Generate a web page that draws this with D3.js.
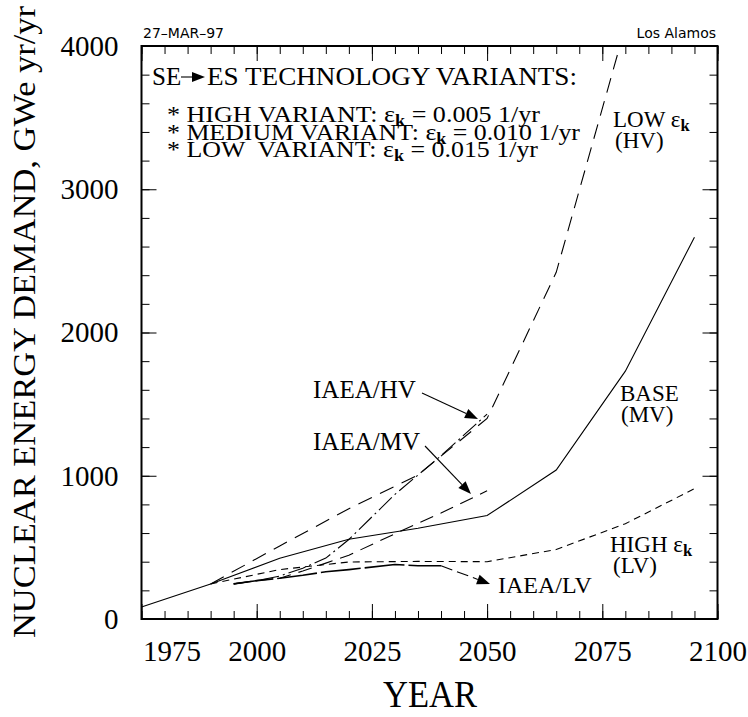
<!DOCTYPE html>
<html><head><meta charset="utf-8">
<script src="https://cdn.jsdelivr.net/npm/d3@7/dist/d3.min.js"></script>
<style>
body{margin:0;background:#fff}
svg{display:block;background:#fff}
text{font-family:"Liberation Serif","Times New Roman",serif;fill:#000}
</style>
</head><body>
<svg id="c" width="748" height="717" font-family="Liberation Serif"></svg>
<script>
// ---------------- data ----------------
const xTickLabels = ["1975","2000","2025","2050","2075","2100"];
const yTickLabels = ["0","1000","2000","3000","4000"];

const baseYears  = [1975,1990,2005,2020,2035,2050,2065,2080,2095];
const baseMV     = [84,245,424,557,633,722,1040,1730,2665];

const lowEkYears = [1990,2005,2020,2035,2050,2065,2080];
const lowEkHV    = [245,510,770,1005,1400,2420,4135];

const highEkYears = [1990,2005,2020,2035,2050,2065,2080,2095];
const highEkLV    = [245,345,398,402,400,485,665,910];

const iaeaYears = [1995,2000,2005,2010,2015,2020,2030,2040,2050];
const iaeaHV    = [245,268,300,355,425,555,870,1140,1430];
const iaeaMV    = [245,268,285,335,390,445,595,740,895];

const iaeaLVYears = [1995,2000,2005,2010,2015,2020,2030,2035,2040];
const iaeaLV      = [245,268,285,305,330,345,380,372,372];

// ---------------- layout ----------------
const SERIF = "Liberation Serif";
const svg = d3.select("#c");
const L = 141.5, R = 717.5, T = 46, B = 619;
const x = d3.scaleLinear().domain([1975,2100]).range([L,R]);
const y = d3.scaleLinear().domain([0,4000]).range([B,T]);

svg.append("defs").append("clipPath").attr("id","clip")
  .append("rect").attr("x",L).attr("y",T).attr("width",R-L).attr("height",B-T);

// header
svg.append("text").attr("x",143).attr("y",38).attr("font-family","DejaVu Sans").style("font-family","'DejaVu Sans',sans-serif")
  .style("font-size","14px").text("27\u2013MAR\u201397");
svg.append("text").attr("x",716).attr("y",38).attr("text-anchor","end").attr("font-family","DejaVu Sans")
  .style("font-family","'DejaVu Sans',sans-serif").style("font-size","14px").text("Los Alamos");

// ticks
const minorX = d3.range(1975,2101,5), majorX = d3.range(1975,2101,25);
const minorY = d3.range(0,4001,200), majorY = d3.range(0,4001,1000);
function tickAxis(axis, tv, size, tr){
  const g = svg.append("g").attr("transform",tr)
    .call(axis.tickValues(tv).tickSize(size).tickFormat(""));
  g.select(".domain").remove();
  g.selectAll("line").attr("stroke","#000").attr("stroke-width",1);
  return g;
}
tickAxis(d3.axisBottom(x), minorX, -8, `translate(0,${B})`);
tickAxis(d3.axisBottom(x), majorX, -15, `translate(0,${B})`);
tickAxis(d3.axisTop(x), minorX, -8, `translate(0,${T})`);
tickAxis(d3.axisTop(x), majorX, -15, `translate(0,${T})`);
tickAxis(d3.axisLeft(y), minorY, -8, `translate(${L},0)`);
tickAxis(d3.axisLeft(y), majorY, -15, `translate(${L},0)`);
tickAxis(d3.axisRight(y), minorY, -8, `translate(${R},0)`);
tickAxis(d3.axisRight(y), majorY, -15, `translate(${R},0)`);

// frame
svg.append("rect").attr("x",L).attr("y",T).attr("width",R-L).attr("height",B-T)
  .attr("fill","none").attr("stroke","#000").attr("stroke-width",2);

// tick labels
const gx = svg.append("g").attr("transform",`translate(0,${B})`)
  .call(d3.axisBottom(x).tickValues(majorX).tickSize(0).tickPadding(21)
    .tickFormat((d,i)=>xTickLabels[i]));
gx.attr("font-family",SERIF).attr("font-size",29);
gx.select(".domain").remove();
gx.selectAll("text").attr("font-family",SERIF).style("font-family",SERIF).style("font-size","29px").attr("fill","#000");
gx.selectAll("text").filter((d,i)=>i===0).attr("text-anchor","start").attr("x",1);

const gy = svg.append("g").attr("transform",`translate(${L},0)`)
  .call(d3.axisLeft(y).tickValues(majorY).tickSize(0).tickPadding(23)
    .tickFormat((d,i)=>yTickLabels[i]));
gy.attr("font-family",SERIF).attr("font-size",29);
gy.select(".domain").remove();
gy.selectAll("text").attr("font-family",SERIF).style("font-family",SERIF).style("font-size","29px").attr("fill","#000");

// axis titles
svg.append("text").attr("transform","translate(35,322) rotate(-90)").attr("text-anchor","middle")
  .attr("font-family",SERIF).style("font-family",SERIF)
  .style("font-size","32px").attr("textLength",632).attr("lengthAdjust","spacingAndGlyphs")
  .text("NUCLEAR ENERGY DEMAND, GWe yr/yr");
svg.append("text").attr("x",430).attr("y",707).attr("text-anchor","middle")
  .attr("font-family",SERIF).style("font-family",SERIF)
  .style("font-size","38px").attr("textLength",94).attr("lengthAdjust","spacingAndGlyphs").text("YEAR");

// lines
const line = d3.line().x(d=>x(d[0])).y(d=>y(d[1]));
function series(years, vals, dash, w){
  svg.append("path").datum(years.map((yr,i)=>[yr,vals[i]]))
    .attr("d",line).attr("fill","none").attr("stroke","#000")
    .attr("stroke-width",w||1.1).attr("stroke-dasharray",dash||null)
    .attr("clip-path","url(#clip)");
}
series(baseYears, baseMV, null, 1.1);
series(lowEkYears, lowEkHV, "15,9", 1.1);
series(highEkYears, highEkLV, "7,5", 1.1);
series(iaeaYears, iaeaHV, "18,4,2,4", 1.1);
series(iaeaYears, iaeaMV, "14,8", 1.1);
series(iaeaLVYears, iaeaLV, "40,4", 1.6);

// arrows
function arrow(x1,y1,x2,y2,dash){
  const a = Math.atan2(y2-y1,x2-x1), hl = 13, hw = 5;
  const bx = x2-hl*Math.cos(a), by = y2-hl*Math.sin(a);
  svg.append("line").attr("x1",x1).attr("y1",y1).attr("x2",bx).attr("y2",by)
    .attr("stroke","#000").attr("stroke-width",1.1).attr("stroke-dasharray",dash||null);
  const p = [[x2,y2],[bx+hw*Math.sin(a),by-hw*Math.cos(a)],[bx-hw*Math.sin(a),by+hw*Math.cos(a)]];
  svg.append("path").attr("d","M"+p.map(q=>q.join(",")).join("L")+"Z").attr("fill","#000");
}
arrow(422,393,478,419);
arrow(425,446,471,494);
arrow(x(2040),y(372),490,584,"12,5");

// labels
function label(xp, yp, txt, fs, ek){
  const t = svg.append("text").attr("x",xp).attr("y",yp).style("font-size",fs+"px")
    .attr("font-family",SERIF).attr("xml:space","preserve").style("white-space","pre");
  t.append("tspan").text(txt);
  if(ek){
    t.append("tspan").text(" \u03b5");
    t.append("tspan").attr("dy",4).style("font-size",(fs*0.72)+"px").style("font-weight","bold").text("k");
  }
  return t;
}
label(313,398,"IAEA/HV",25);
label(313,450,"IAEA/MV",25);
label(498,593,"IAEA/LV",24);
label(613,127,"LOW",23,true);
label(615,148,"(HV)",23);
label(620,401,"BASE",23);
label(621,422,"(MV)",23);
label(610,552,"HIGH",23,true);
label(613,573,"(LV)",23);

// legend block
svg.append("text").attr("x",152).attr("y",85).attr("font-family",SERIF).style("font-size","25px").text("SE");
arrow(181,77,205,77);
svg.append("text").attr("x",207).attr("y",85).attr("font-family",SERIF).style("font-size","25px")
  .attr("textLength",370).attr("lengthAdjust","spacingAndGlyphs").text("ES TECHNOLOGY VARIANTS:");
function legLine(yp, pre, post, len){
  const t = svg.append("text").attr("x",167).attr("y",yp).style("font-size","23px")
    .attr("font-family",SERIF).attr("xml:space","preserve").style("white-space","pre")
    .attr("textLength",len).attr("lengthAdjust","spacingAndGlyphs");
  t.append("tspan").text(pre+" \u03b5");
  t.append("tspan").attr("dy",4).style("font-size","16px").style("font-weight","bold").text("k");
  t.append("tspan").attr("dy",-4).text(post);
}
legLine(122,"* HIGH VARIANT:"," = 0.005 1/yr",373);
legLine(140,"* MEDIUM VARIANT:"," = 0.010 1/yr",413);
legLine(157,"* LOW  VARIANT:"," = 0.015 1/yr",371);
</script>
</body></html>
